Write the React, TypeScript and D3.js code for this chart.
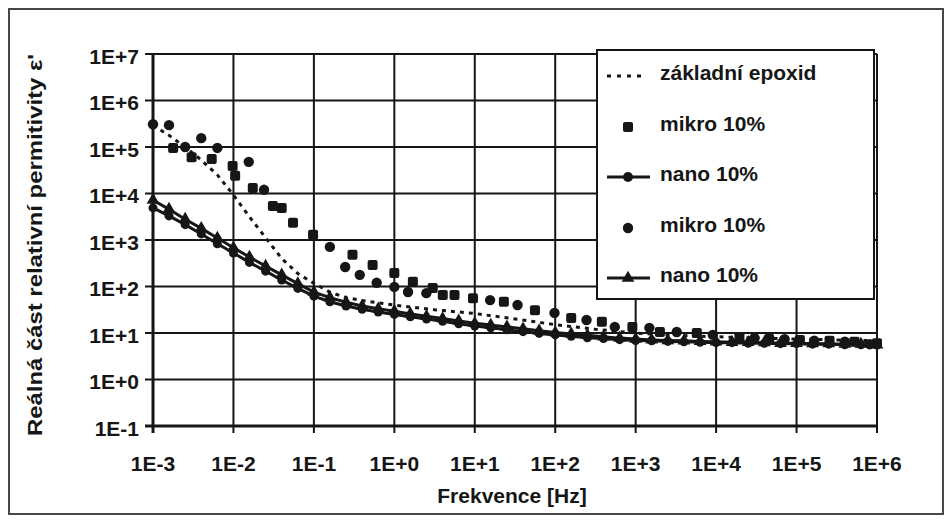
import React from "react";
import * as d3 from "d3";

// ---------- DATA ----------
const X_TICKS = [1e-3, 1e-2, 1e-1, 1e0, 1e1, 1e2, 1e3, 1e4, 1e5, 1e6];
const X_TICK_LABELS = ["1E-3", "1E-2", "1E-1", "1E+0", "1E+1", "1E+2", "1E+3", "1E+4", "1E+5", "1E+6"];
const Y_TICKS = [1e-1, 1e0, 1e1, 1e2, 1e3, 1e4, 1e5, 1e6, 1e7];
const Y_TICK_LABELS = ["1E-1", "1E+0", "1E+1", "1E+2", "1E+3", "1E+4", "1E+5", "1E+6", "1E+7"];

// základní epoxid (dotted line)
const EPOXY_F = [1e-3, 1.58e-3, 2.51e-3, 3.98e-3, 6.31e-3, 1e-2, 1.58e-2, 2.51e-2, 3.98e-2, 6.31e-2, 0.1, 0.158, 0.251, 0.398, 0.631, 1, 3.16, 10, 31.6, 100, 316, 1e3, 3.16e3, 1e4, 3.16e4, 1e5, 3.16e5, 1e6];
const EPOXY_V = [295000, 178000, 100000, 52500, 25100, 9300, 3160, 1120, 400, 190, 117, 76, 57.5, 50, 44.7, 39.8, 31.6, 26.3, 20, 15.1, 12, 10, 8.9, 8.3, 7.8, 7.4, 7.1, 6.8];

// nano 10% lines
const NANO_F = [1e-3, 1.58e-3, 2.51e-3, 3.98e-3, 6.31e-3, 1e-2, 1.58e-2, 2.51e-2, 3.98e-2, 6.31e-2, 0.1, 0.158, 0.251, 0.398, 0.631, 1, 1.58, 2.51, 3.98, 6.31, 10, 15.8, 25.1, 39.8, 63.1, 100, 158, 251, 398, 631, 1e3, 1.58e3, 2.51e3, 3.98e3, 6.31e3, 1e4, 1.58e4, 2.51e4, 3.98e4, 6.31e4, 1e5, 1.58e5, 2.51e5, 3.98e5, 6.31e5, 1e6];
const NANO_CIRCLE_V = [4900, 3300, 2140, 1350, 830, 525, 330, 214, 138, 91, 62, 47, 38, 32.4, 28.2, 25.1, 22.4, 20, 17.8, 15.8, 14.1, 12.9, 11.7, 10.7, 9.8, 9.1, 8.5, 7.9, 7.6, 7.2, 6.9, 6.8, 6.6, 6.45, 6.3, 6.2, 6.2, 6.0, 6.0, 5.9, 5.9, 5.75, 5.75, 5.6, 5.6, 5.5];
const NANO_TRI_V = [7200, 4600, 2800, 1780, 1100, 680, 430, 275, 178, 115, 76, 57.5, 45.7, 38, 33.1, 29.5, 25.7, 22.9, 20.4, 18.2, 16.2, 14.8, 13.5, 12.3, 11.2, 10.2, 9.55, 8.9, 8.3, 7.76, 7.4, 7.1, 6.9, 6.8, 6.6, 6.45, 6.3, 6.3, 6.2, 6.0, 6.0, 5.9, 5.9, 5.75, 5.75, 5.6];

// mikro 10% squares (scatter)
const MIKRO_SQ_F = [0.00178, 0.00302, 0.00537, 0.00977, 0.0105, 0.0174, 0.0309, 0.0398, 0.055, 0.0977, 0.302, 0.537, 1.0, 1.7, 3.0, 4.0, 5.6, 9.5, 23, 56, 158, 380, 910, 2000, 5750, 19500, 45700, 110000, 257000, 525000, 1e6];
const MIKRO_SQ_V = [95500, 60300, 55000, 38900, 24000, 13200, 5400, 4900, 2340, 1290, 480, 290, 195, 126, 93, 66, 66, 56, 47, 31, 21, 17.4, 13.5, 10.5, 10, 8.1, 7.4, 7.1, 6.8, 6.5, 6.0];

// mikro 10% circles (scatter)
const MIKRO_CI_F = [0.001, 0.00158, 0.00251, 0.00398, 0.00631, 0.0155, 0.024, 0.158, 0.245, 0.372, 0.603, 1.0, 1.48, 2.5, 15.5, 34, 98, 245, 550, 1480, 3240, 9100, 30000, 71000, 166000, 398000, 813000];
const MIKRO_CI_V = [309000, 295000, 100000, 155000, 95500, 47900, 12000, 710, 263, 178, 120, 98, 76, 72, 51, 40, 27, 19, 13.5, 12.9, 10.5, 9.1, 7.8, 7.4, 6.8, 6.5, 5.75];

const LEGEND_LABELS = ["základní epoxid", "mikro 10%", "nano 10%", "mikro 10%", "nano 10%"];
const X_TITLE = "Frekvence [Hz]";
const Y_TITLE = "Reálná část relativní permitivity ε'";

// ---------- CHART ----------
const W = 952;
const H = 522;
const INK = "#161616";
const FONT = "'Liberation Sans', Arial, sans-serif";

export default function App() {
  const x = d3.scaleLog().domain([1e-3, 1e6]).range([153, 877]);
  const y = d3.scaleLog().domain([1e-1, 1e7]).range([426, 54]);

  const zip = (f: number[], v: number[]) => f.map((d, i) => [d, v[i]] as [number, number]);
  const line = d3
    .line<[number, number]>()
    .x((d) => x(d[0]))
    .y((d) => y(d[1]));

  const epoxy = zip(EPOXY_F, EPOXY_V);
  const nanoC = zip(NANO_F, NANO_CIRCLE_V);
  const nanoT = zip(NANO_F, NANO_TRI_V);
  const mikroSq = zip(MIKRO_SQ_F, MIKRO_SQ_V);
  const mikroCi = zip(MIKRO_CI_F, MIKRO_CI_V);

  const tri = d3.symbol().type(d3.symbolTriangle).size(70)() as string;

  const [x0, x1] = x.range();
  const [yb, yt] = y.range();

  const legX = 597;
  const legY = 50;
  const legW = 277;
  const legH = 249;
  const rows = [76, 127, 177, 228, 278];
  const symX = 628;
  const textX = 660;

  return (
    <svg width={W} height={H} style={{ position: "absolute", left: 0, top: 0, background: "#fff" }} fontFamily={FONT}>
      <rect x={0} y={0} width={W} height={H} fill="#fff" />
      <rect x={9} y={9} width={934} height={505} fill="none" stroke="#333" strokeWidth={1.8} />

      {/* grid */}
      {Y_TICKS.map((t) => (
        <line key={"gy" + t} x1={x0 - 8} x2={x1} y1={y(t)} y2={y(t)} stroke={INK} strokeWidth={t === 1e-1 ? 3 : 2} />
      ))}
      {X_TICKS.map((t) => (
        <line key={"gx" + t} x1={x(t)} x2={x(t)} y1={yt} y2={yb + 7} stroke={INK} strokeWidth={t === 1e-3 ? 3 : 2} />
      ))}

      {/* tick labels */}
      {Y_TICKS.map((t, i) => (
        <text key={"ly" + t} x={139} y={y(t) + 4} textAnchor="end" dominantBaseline="middle" fontSize={21} fontWeight="bold" fill={INK}>
          {Y_TICK_LABELS[i]}
        </text>
      ))}
      {X_TICKS.map((t, i) => (
        <text key={"lx" + t} x={x(t)} y={471} textAnchor="middle" fontSize={21} fontWeight="bold" fill={INK}>
          {X_TICK_LABELS[i]}
        </text>
      ))}

      {/* axis titles */}
      <text x={512} y={503} textAnchor="middle" fontSize={21} fontWeight="bold" fill={INK}>
        {X_TITLE}
      </text>
      <text
        transform={`translate(42,245) rotate(-90)`}
        textAnchor="middle"
        fontSize={19.5}
        fontWeight="bold"
        fill={INK}
        textLength={382}
        lengthAdjust="spacingAndGlyphs"
      >
        {Y_TITLE}
      </text>

      {/* epoxy dotted */}
      <path d={line(epoxy) || ""} fill="none" stroke={INK} strokeWidth={3} strokeDasharray="4 5" />

      {/* nano lines */}
      <path d={line(nanoT) || ""} fill="none" stroke={INK} strokeWidth={3} />
      <path d={line(nanoC) || ""} fill="none" stroke={INK} strokeWidth={3} />
      {nanoT.map((d, i) => (
        <path key={"nt" + i} d={tri} transform={`translate(${x(d[0])},${y(d[1])})`} fill={INK} />
      ))}
      {nanoC.map((d, i) => (
        <circle key={"nc" + i} cx={x(d[0])} cy={y(d[1])} r={4.5} fill={INK} />
      ))}

      {/* mikro scatter */}
      {mikroSq.map((d, i) => (
        <rect key={"ms" + i} x={x(d[0]) - 5} y={y(d[1]) - 5} width={10} height={10} rx={2} fill={INK} />
      ))}
      {mikroCi.map((d, i) => (
        <circle key={"mc" + i} cx={x(d[0])} cy={y(d[1])} r={5.2} fill={INK} />
      ))}

      {/* legend */}
      <rect x={legX} y={legY} width={legW} height={legH} fill="#fff" stroke={INK} strokeWidth={2} />
      <line x1={607} x2={645} y1={rows[0]} y2={rows[0]} stroke={INK} strokeWidth={3} strokeDasharray="4 6" />
      <rect x={symX - 5} y={rows[1] - 5} width={10} height={10} rx={2} fill={INK} />
      <line x1={607} x2={650} y1={rows[2]} y2={rows[2]} stroke={INK} strokeWidth={3} />
      <circle cx={symX} cy={rows[2]} r={5} fill={INK} />
      <circle cx={symX} cy={rows[3]} r={5.2} fill={INK} />
      <line x1={607} x2={650} y1={rows[4]} y2={rows[4]} stroke={INK} strokeWidth={3} />
      <path d={tri} transform={`translate(${symX},${rows[4]})`} fill={INK} />
      {LEGEND_LABELS.map((l, i) => (
        <text key={"lg" + i} x={textX} y={rows[i] - 2} dominantBaseline="middle" fontSize={21} fontWeight="bold" fill={INK}>
          {l}
        </text>
      ))}
    </svg>
  );
}
